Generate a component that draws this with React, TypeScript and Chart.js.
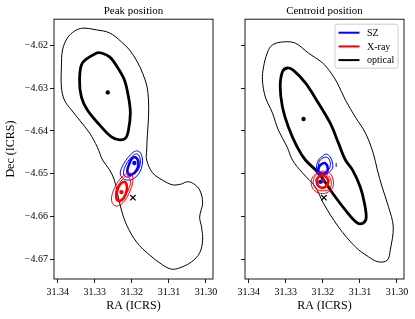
import React, { useEffect, useRef } from 'react';
import { Chart, registerables } from 'chart.js';
Chart.register(...registerables);

type P = [number, number];

const FONT = "'Liberation Serif', 'Times New Roman', serif";

// Axis ticks (shared)
const xTicks = [31.34, 31.33, 31.32, 31.31, 31.3];
const xTickLabels = ['31.34', '31.33', '31.32', '31.31', '31.30'];
const yTicks = [-4.62, -4.63, -4.64, -4.65, -4.66, -4.67];
const yTickLabels = ['−4.62', '−4.63', '−4.64', '−4.65', '−4.66', '−4.67'];
const raRange = [31.2981, 31.341];
const decRange = [-4.6746, -4.6139];

// Cluster reference position (x marker)
const clusterMarker: P[] = [[31.3197, -4.6556]];

// ---------- Peak position panel ----------
const peakOpticalOuter: P[] = [
  [31.3333, -4.616], [31.3295, -4.6164], [31.326, -4.6171], [31.3228, -4.6192], [31.3206, -4.6211],
  [31.3185, -4.6239], [31.3171, -4.6265], [31.316, -4.6293], [31.3155, -4.6328], [31.3155, -4.6368],
  [31.3158, -4.6409], [31.316, -4.6445], [31.316, -4.6468], [31.3144, -4.6498], [31.3117, -4.6515],
  [31.309, -4.6526], [31.3066, -4.6524], [31.3052, -4.6519], [31.3036, -4.6522], [31.3017, -4.6538],
  [31.3009, -4.6568], [31.3017, -4.6601], [31.3012, -4.6624], [31.3009, -4.6655], [31.3017, -4.6685],
  [31.3039, -4.6706], [31.3071, -4.672], [31.3093, -4.6723], [31.3117, -4.6713], [31.3152, -4.669],
  [31.3187, -4.666], [31.3214, -4.662], [31.3228, -4.6585], [31.3239, -4.6545], [31.3247, -4.6515],
  [31.326, -4.6491], [31.3279, -4.6468], [31.3293, -4.6438], [31.3314, -4.6405], [31.3341, -4.6375],
  [31.3363, -4.6351], [31.3382, -4.6328], [31.339, -4.6297], [31.339, -4.6251], [31.3387, -4.6211],
  [31.3374, -4.6183], [31.3355, -4.6167],
];
const peakOpticalInner: P[] = [
  [31.3295, -4.6218], [31.3333, -4.6241], [31.3341, -4.6281], [31.3336, -4.6321], [31.332, -4.6351],
  [31.3287, -4.6386], [31.3255, -4.6414], [31.3233, -4.6421], [31.3217, -4.6417], [31.3209, -4.6398],
  [31.3204, -4.6358], [31.3209, -4.6321], [31.322, -4.6281], [31.3239, -4.6251], [31.326, -4.6227],
  [31.3282, -4.6218],
];
const peakOpticalCentre: P[] = [[31.3265, -4.631]];

const peakSZOuter: P[] = [
  [31.319, -4.6447], [31.3179, -4.6449], [31.3174, -4.6456], [31.3171, -4.647], [31.3174, -4.6487],
  [31.3182, -4.6501], [31.3196, -4.6512], [31.3212, -4.6515], [31.3225, -4.651], [31.3231, -4.6501],
  [31.3228, -4.6487], [31.3217, -4.647], [31.3204, -4.6456],
];
const peakSZMiddle: P[] = [
  [31.319, -4.6454], [31.3182, -4.6456], [31.3177, -4.6468], [31.3179, -4.6484], [31.3187, -4.6496],
  [31.3201, -4.6505], [31.3214, -4.6508], [31.3222, -4.6501], [31.322, -4.6487], [31.3212, -4.6473],
  [31.3201, -4.6461],
];
const peakSZInner: P[] = [
  [31.3193, -4.6461], [31.3185, -4.6466], [31.3182, -4.6477], [31.3187, -4.6491], [31.3198, -4.6501],
  [31.3209, -4.6501], [31.3212, -4.6491], [31.3206, -4.6475], [31.3201, -4.6466],
];
const peakSZCentre: P[] = [[31.3193, -4.6475]];

const peakXrayOuter: P[] = [
  [31.3206, -4.6498], [31.3198, -4.6505], [31.3198, -4.6522], [31.3206, -4.6543], [31.322, -4.6564],
  [31.3236, -4.6575], [31.3249, -4.6573], [31.3255, -4.6559], [31.3249, -4.6538], [31.3236, -4.6517],
  [31.322, -4.6503],
];
const peakXrayMiddle: P[] = [
  [31.3212, -4.6505], [31.3204, -4.6515], [31.3206, -4.6531], [31.3217, -4.655], [31.3231, -4.6561],
  [31.3241, -4.6559], [31.3244, -4.6545], [31.3236, -4.6526], [31.3222, -4.651],
];
const peakXrayInner: P[] = [
  [31.322, -4.6519], [31.3214, -4.6526], [31.3214, -4.654], [31.3222, -4.6557], [31.3233, -4.6564],
  [31.3241, -4.6559], [31.3241, -4.6545], [31.3236, -4.6531], [31.3228, -4.6522],
];
const peakXrayCentre: P[] = [[31.3228, -4.6543]];

// ---------- Centroid position panel ----------
const centOpticalOuter: P[] = [
  [31.3306, -4.6192], [31.3274, -4.6195], [31.3239, -4.6218], [31.3201, -4.6241], [31.318, -4.6262],
  [31.3161, -4.6288], [31.3139, -4.6328], [31.3112, -4.6368], [31.3085, -4.6405], [31.3064, -4.6452],
  [31.3053, -4.6491], [31.304, -4.6531], [31.3023, -4.6577], [31.301, -4.6624], [31.3018, -4.6678],
  [31.3026, -4.6702], [31.305, -4.6706], [31.3077, -4.6694], [31.3112, -4.6671], [31.3158, -4.6624],
  [31.3199, -4.6568], [31.322, -4.6531], [31.3255, -4.6498], [31.3282, -4.6468], [31.3296, -4.6438],
  [31.332, -4.6398], [31.3336, -4.6358], [31.3355, -4.6321], [31.3363, -4.6281], [31.336, -4.6251],
  [31.335, -4.6218], [31.3336, -4.6199],
];
const centOpticalInner: P[] = [
  [31.3296, -4.6253], [31.328, -4.6258], [31.3247, -4.6288], [31.3212, -4.6335], [31.318, -4.6382],
  [31.3158, -4.6428], [31.3139, -4.6468], [31.312, -4.6491], [31.3099, -4.6531], [31.3088, -4.6568],
  [31.3083, -4.6603], [31.3091, -4.6615], [31.3107, -4.6615], [31.3139, -4.6585], [31.3174, -4.6545],
  [31.3212, -4.6498], [31.3247, -4.6468], [31.3269, -4.6438], [31.3293, -4.6391], [31.3309, -4.6344],
  [31.3315, -4.6297], [31.3309, -4.6262],
];
const centOpticalCentre: P[] = [[31.3252, -4.6372]];

const centSZOuter: P[] = [
  [31.3191, -4.6454], [31.318, -4.6461], [31.3174, -4.6475], [31.3174, -4.6487], [31.3185, -4.6498],
  [31.3201, -4.6505], [31.3215, -4.6501], [31.3217, -4.6484], [31.3212, -4.6468], [31.3201, -4.6459],
];
const centSZMiddle: P[] = [
  [31.3191, -4.6461], [31.3182, -4.6468], [31.318, -4.6482], [31.3188, -4.6494], [31.3201, -4.6498],
  [31.3212, -4.6494], [31.3212, -4.648], [31.3207, -4.6468],
];
const centSZInner: P[] = [
  [31.3196, -4.6475], [31.3188, -4.6482], [31.3188, -4.6494], [31.3199, -4.6501], [31.3209, -4.6498],
  [31.3212, -4.6489], [31.3207, -4.648],
];
const centSZFragment: P[] = [[31.3164, -4.6475], [31.3164, -4.6484]];
const centSZCentre: P[] = [[31.3207, -4.6519]];

const centXrayOuter: P[] = [
  [31.3201, -4.6494], [31.3182, -4.6498], [31.3172, -4.6515], [31.3174, -4.6533], [31.3191, -4.6545],
  [31.3212, -4.6545], [31.3228, -4.6533], [31.3231, -4.6515], [31.322, -4.6501],
];
const centXrayMiddle: P[] = [
  [31.3201, -4.6498], [31.3185, -4.6505], [31.3177, -4.6519], [31.3182, -4.6536], [31.3201, -4.654],
  [31.3217, -4.6536], [31.3226, -4.6522], [31.322, -4.6505],
];
const centXrayInner: P[] = [
  [31.3201, -4.6503], [31.3191, -4.6508], [31.3185, -4.6517], [31.3191, -4.6529], [31.3201, -4.6533],
  [31.3212, -4.6529], [31.3217, -4.6517], [31.3212, -4.6508],
];
const centXrayCentre: P[] = [[31.3201, -4.6517]];

const legendItems = [
  { label: 'SZ', color: '#0000ff' },
  { label: 'X-ray', color: '#ff0000' },
  { label: 'optical', color: '#000000' },
];

// ---------- helpers ----------
const toXY = (pts: P[]) => pts.map(([x, y]) => ({ x, y }));

function contour(pts: P[], color: string, width: number, order: number, closed = true) {
  return {
    data: toXY(pts),
    showLine: true,
    borderColor: color,
    borderWidth: width,
    pointRadius: 0,
    tension: 0.35,
    fill: false,
    closedLoop: closed,
    order,
  };
}

function dot(pts: P[], color: string, order: number) {
  return {
    data: toXY(pts),
    showLine: false,
    pointRadius: 2.2,
    pointBackgroundColor: color,
    pointBorderWidth: 0,
    borderColor: color,
    order,
  };
}

function marker(pts: P[]) {
  return {
    data: toXY(pts),
    showLine: false,
    pointStyle: 'crossRot',
    pointRadius: 3.8,
    pointBorderWidth: 1.2,
    pointBorderColor: '#000',
    borderColor: '#000',
    order: 0,
  };
}

// closes contour lines into smooth loops
const loopPlugin = {
  id: 'loopContours',
  afterDatasetUpdate(chart: any, args: any) {
    const ds = chart.data.datasets[args.index];
    const line = args.meta && args.meta.dataset;
    if (ds && ds.closedLoop && line) {
      line._loop = true;
      line._fullLoop = true;
      line._pointsUpdated = false;
      delete line._segments;
      delete line._path;
    }
  },
};

const framePlugin = {
  id: 'frame',
  afterDatasetsDraw(chart: any) {
    const { ctx, chartArea: a } = chart;
    ctx.save();
    ctx.strokeStyle = '#000';
    ctx.lineWidth = 0.9;
    ctx.strokeRect(a.left, a.top, a.right - a.left, a.bottom - a.top);
    ctx.restore();
  },
};

const legendPlugin = {
  id: 'boxLegend',
  afterDraw(chart: any) {
    const { ctx, chartArea: a } = chart;
    const w = 63;
    const h = 44;
    const x1 = a.right - 6 - w;
    const y1 = a.top + 5;
    ctx.save();
    ctx.fillStyle = 'rgba(255,255,255,0.85)';
    ctx.strokeStyle = '#cccccc';
    ctx.lineWidth = 1;
    ctx.beginPath();
    const r = 2.5;
    ctx.moveTo(x1 + r, y1);
    ctx.lineTo(x1 + w - r, y1);
    ctx.arcTo(x1 + w, y1, x1 + w, y1 + r, r);
    ctx.lineTo(x1 + w, y1 + h - r);
    ctx.arcTo(x1 + w, y1 + h, x1 + w - r, y1 + h, r);
    ctx.lineTo(x1 + r, y1 + h);
    ctx.arcTo(x1, y1 + h, x1, y1 + h - r, r);
    ctx.lineTo(x1, y1 + r);
    ctx.arcTo(x1, y1, x1 + r, y1, r);
    ctx.closePath();
    ctx.fill();
    ctx.stroke();
    ctx.font = `10px ${FONT}`;
    ctx.textBaseline = 'middle';
    ctx.textAlign = 'left';
    legendItems.forEach((it, i) => {
      const y = y1 + 8.5 + i * 13.7;
      ctx.strokeStyle = it.color;
      ctx.lineWidth = 2;
      ctx.beginPath();
      ctx.moveTo(x1 + 3.5, y);
      ctx.lineTo(x1 + 24.5, y);
      ctx.stroke();
      ctx.fillStyle = '#000';
      ctx.fillText(it.label, x1 + 32, y + 0.5);
    });
    ctx.restore();
  },
};

const labelFor = (vals: number[], labels: string[], v: number) => {
  const i = vals.findIndex((t) => Math.abs(t - v) < 1e-7);
  return i >= 0 ? labels[i] : '';
};

type PanelProps = {
  title: string;
  datasets: any[];
  left: number;
  width: number;
  yAxisWidth: number;
  padRight: number;
  showYLabels: boolean;
  legend: boolean;
};

function Panel(props: PanelProps) {
  const ref = useRef<HTMLCanvasElement | null>(null);
  useEffect(() => {
    if (!ref.current) return;
    const gridCfg = {
      display: true,
      drawOnChartArea: false,
      drawTicks: true,
      tickLength: 4,
      color: '#000',
      lineWidth: 0.9,
    };
    const chart = new Chart(ref.current, {
      type: 'scatter',
      data: { datasets: props.datasets },
      options: {
        animation: false,
        responsive: false,
        devicePixelRatio: 1,
        events: [],
        layout: { padding: { left: 0, right: props.padRight, top: 0, bottom: 0 } },
        plugins: {
          legend: { display: false },
          tooltip: { enabled: false },
          title: {
            display: true,
            text: props.title,
            fullSize: false,
            color: '#000',
            font: { family: FONT, size: 11, weight: 'normal' },
            padding: { top: 5, bottom: 1 },
          },
        },
        scales: {
          x: {
            type: 'linear',
            min: raRange[0],
            max: raRange[1],
            reverse: true,
            afterBuildTicks: (s: any) => {
              s.ticks = xTicks.map((v) => ({ value: v }));
            },
            afterFit: (s: any) => {
              s.height = 40;
            },
            border: { display: false },
            grid: gridCfg,
            ticks: {
              color: '#000',
              font: { family: FONT, size: 10 },
              padding: 3,
              maxRotation: 0,
              autoSkip: false,
              callback: (v: any) => labelFor(xTicks, xTickLabels, Number(v)),
            },
            title: {
              display: true,
              text: 'RA (ICRS)',
              color: '#000',
              font: { family: FONT, size: 12 },
              padding: { top: 0, bottom: 6 },
            },
          },
          y: {
            type: 'linear',
            min: decRange[0],
            max: decRange[1],
            afterBuildTicks: (s: any) => {
              s.ticks = yTicks.map((v) => ({ value: v }));
            },
            afterFit: (s: any) => {
              s.width = props.yAxisWidth;
            },
            border: { display: false },
            grid: gridCfg,
            ticks: {
              color: props.showYLabels ? '#000' : 'rgba(0,0,0,0)',
              font: { family: FONT, size: 10 },
              padding: 2,
              autoSkip: false,
              callback: (v: any) => labelFor(yTicks, yTickLabels, Number(v)),
            },
            title: {
              display: props.showYLabels,
              text: 'Dec (ICRS)',
              color: '#000',
              font: { family: FONT, size: 12 },
              padding: { top: 4, bottom: 0 },
            },
          },
        },
      } as any,
      plugins: props.legend ? [loopPlugin, framePlugin, legendPlugin] : [loopPlugin, framePlugin],
    });
    return () => chart.destroy();
  }, []);
  return (
    <canvas
      ref={ref}
      width={props.width}
      height={319}
      style={{ position: 'absolute', left: props.left, top: 0, width: props.width, height: 319 }}
    />
  );
}

export default function App() {
  const peakDatasets = [
    contour(peakOpticalOuter, '#000', 1, 6),
    contour(peakOpticalInner, '#000', 2.8, 6),
    contour(peakSZOuter, '#0000ff', 1, 5),
    contour(peakSZMiddle, '#0000ff', 1, 5),
    contour(peakSZInner, '#0000ff', 2.6, 5),
    contour(peakXrayOuter, '#ff0000', 1, 4),
    contour(peakXrayMiddle, '#ff0000', 1, 4),
    contour(peakXrayInner, '#ff0000', 2.6, 4),
    dot(peakOpticalCentre, '#000', 2),
    dot(peakSZCentre, '#0000ff', 2),
    dot(peakXrayCentre, '#ff0000', 2),
    marker(clusterMarker),
  ];
  const centDatasets = [
    contour(centOpticalOuter, '#000', 1, 6),
    contour(centOpticalInner, '#000', 2.8, 6),
    contour(centSZOuter, '#0000ff', 1, 5),
    contour(centSZMiddle, '#0000ff', 1, 5),
    contour(centSZInner, '#0000ff', 2.6, 5),
    contour(centSZFragment, '#0000ff', 1, 5, false),
    contour(centXrayOuter, '#ff0000', 1, 4),
    contour(centXrayMiddle, '#ff0000', 1, 4),
    contour(centXrayInner, '#ff0000', 2.6, 4),
    dot(centOpticalCentre, '#000', 2),
    dot(centXrayCentre, '#ff0000', 2),
    dot(centSZCentre, '#0000ff', 1),
    marker(clusterMarker),
  ];
  return (
    <div style={{ position: 'fixed', left: 0, top: 0, width: 415, height: 319, background: '#fff', overflow: 'hidden' }}>
      <Panel
        title="Peak position"
        datasets={peakDatasets}
        left={0}
        width={230}
        yAxisWidth={54}
        padRight={17}
        showYLabels={true}
        legend={false}
      />
      <Panel
        title="Centroid position"
        datasets={centDatasets}
        left={214}
        width={201}
        yAxisWidth={31}
        padRight={11}
        showYLabels={false}
        legend={true}
      />
    </div>
  );
}
